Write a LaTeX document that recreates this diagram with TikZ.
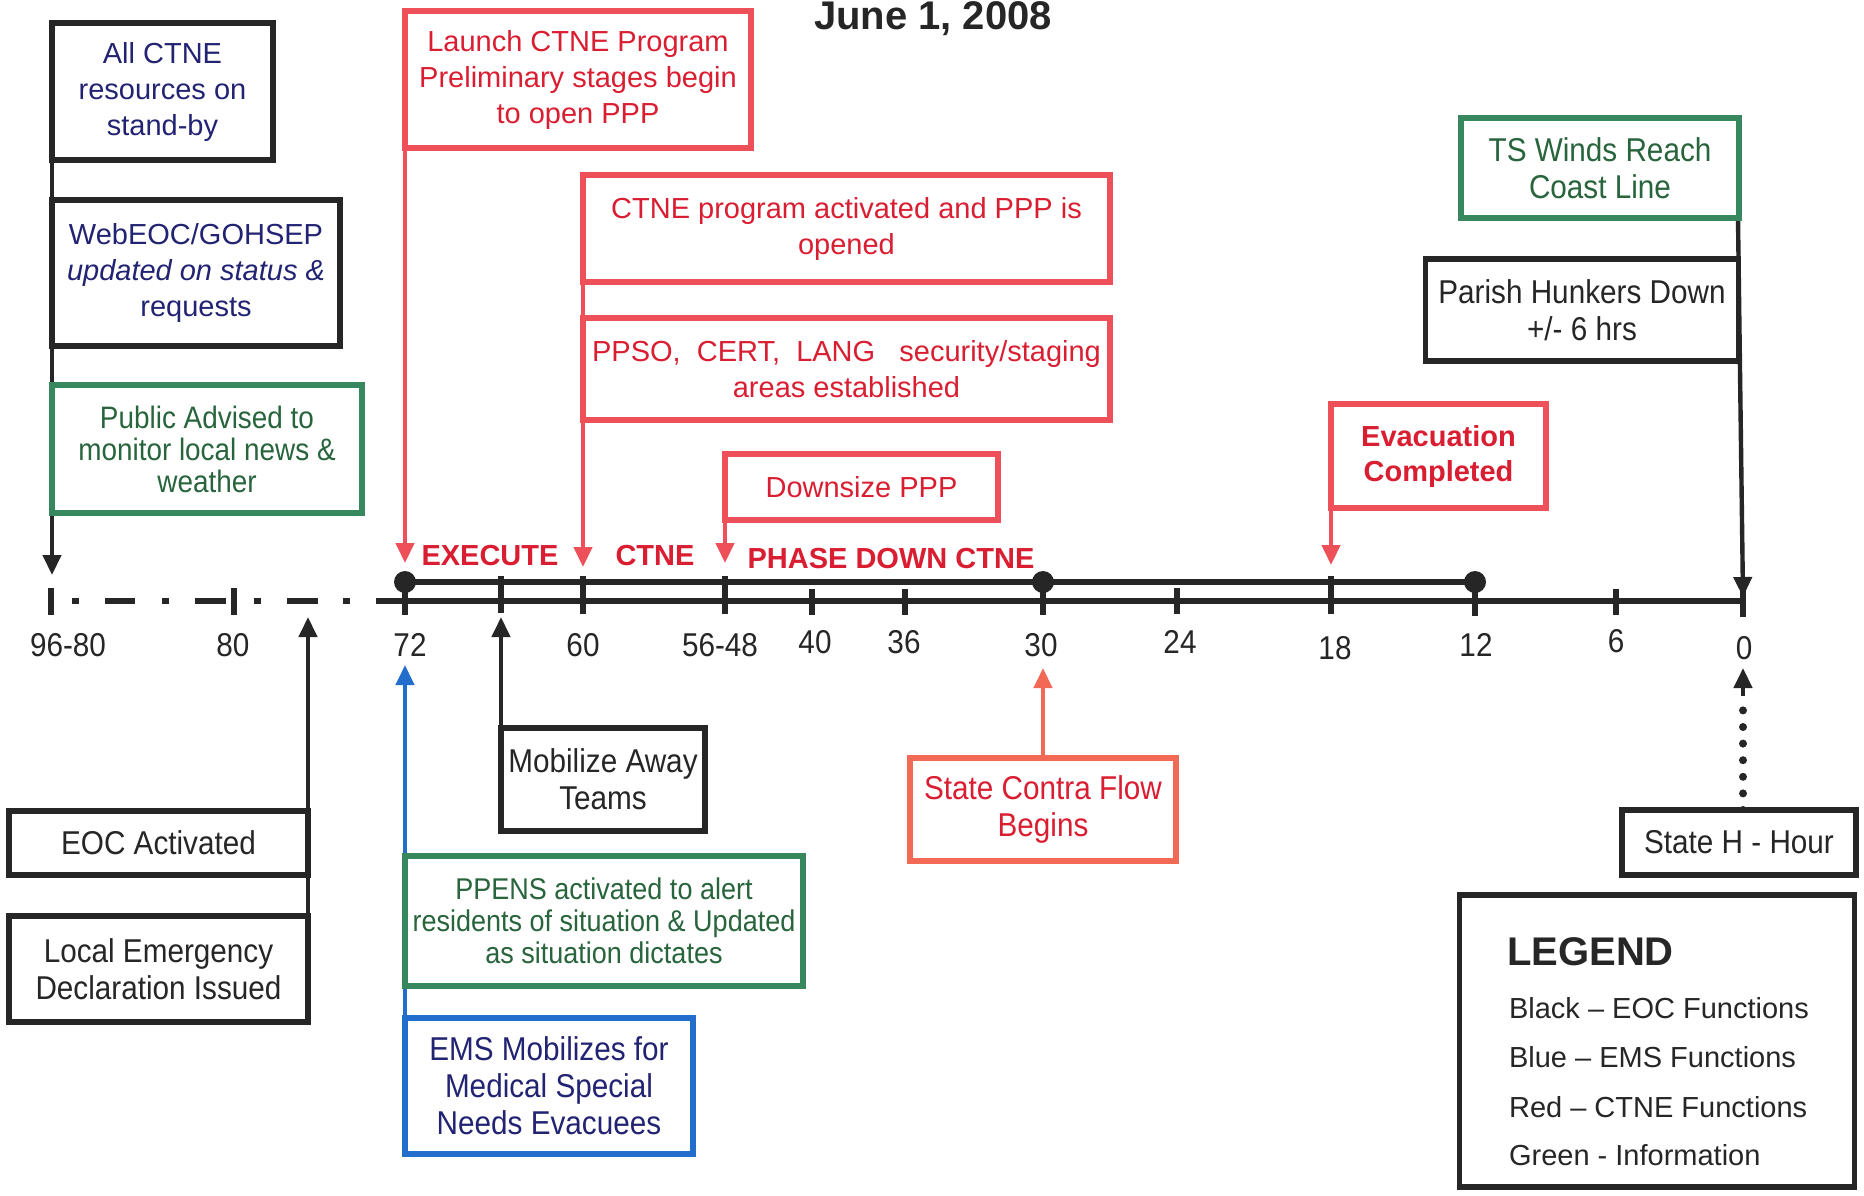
\documentclass[tikz,border=0pt]{standalone}
\usepackage{fontspec}
\setmainfont{Liberation Sans}
\newfontfamily\narrowf[FakeStretch=0.9]{Liberation Sans}
\usetikzlibrary{arrows.meta}
\definecolor{ink}{RGB}{38,38,38}
\definecolor{navy}{RGB}{35,35,115}
\definecolor{grnb}{RGB}{55,135,95}
\definecolor{grnt}{RGB}{40,100,60}
\definecolor{redb}{RGB}{238,80,90}
\definecolor{redt}{RGB}{218,30,50}
\definecolor{blub}{RGB}{35,110,205}
\definecolor{orab}{RGB}{242,105,85}
\begin{document}
\begin{tikzpicture}[x=0.5pt,y=-0.5pt,
  wtxt/.style={font=\fontsize{14.5}{18}\selectfont},
  ntxt/.style={font=\narrowf\fontsize{16.5}{18.5}\selectfont},
  box/.style={draw, line width=2.6pt, fill=white, align=center, inner sep=1pt},
  kbox/.style={box, draw=ink, text=ink},
  rbox/.style={box, draw=redb, text=redt},
  gbox/.style={box, draw=grnb, text=grnt},
  bbox/.style={box, draw=blub, text=navy},
  kcon/.style={draw=ink, line width=2.2pt, -{Triangle[length=10pt,width=9pt]}},
  rcon/.style={draw=redb, line width=2.2pt, -{Triangle[length=10pt,width=9pt]}},
  bcon/.style={draw=blub, line width=2.2pt, -{Triangle[length=10pt,width=9pt]}},
  ocon/.style={draw=orab, line width=2.2pt, -{Triangle[length=10pt,width=9pt]}},
  axis/.style={draw=ink, line width=3pt},
  tk/.style={draw=ink, line width=2.6pt},
  numlab/.style={ntxt, text=ink},
  phase/.style={font=\bfseries\fontsize{14.5}{18}\selectfont, text=redt},
  legitem/.style={wtxt, text=ink, anchor=west}
]
\useasboundingbox (0,0) rectangle (1864,1195);
\fill[white] (0,0) rectangle (1864,1195);

% title
\node[font=\bfseries\fontsize{20}{22}\selectfont, text=ink, anchor=base] (title) at (933,29) {June 1, 2008};

% arrow tip coordinates
\coordinate (tipL) at (52,575);
\coordinate (tip72) at (405,563);
\coordinate (tip60) at (583,567);
\coordinate (tip56) at (725,563);
\coordinate (tip18) at (1331,565);
\coordinate (tip0) at (1743,597);
\coordinate (tipE) at (308,617);
\coordinate (tipM) at (501,617);
\coordinate (tipB) at (405,665);
\coordinate (tipC) at (1043,668);
\coordinate (tipH) at (1743,668);
\coordinate (dotend) at (1743,696);

% ---------- timeline ----------
\draw[axis] (376,601) -- (1743,601);
\foreach \a/\b in {105/135,195/226,287/318} \draw[axis] (\a,601) -- (\b,601);
\foreach \a in {75,165,257,346} \draw[axis] (\a-3.5,601) -- (\a+3.5,601);
\draw[axis] (405,582) -- (1475,582);
\foreach \x/\a/\b in {51/588/615, 234/588/615, 405/582/615, 501/576/613, 583/576/614,
  725/576/614, 812/589/615, 905/589/615, 1043/582/615, 1177/588/614, 1331/576/614,
  1475/582/616, 1616/589/615, 1743/590/617}
  \draw[tk] (\x,\a) -- (\x,\b);
\foreach \x in {405,1043,1475} \fill[ink] (\x,582) circle (5.5pt);

\node[numlab] (n9680) at (68,645) {96-80};
\node[numlab] (n80) at (233,645) {80};
\node[numlab] (n72) at (410,645) {72};
\node[numlab] (n60) at (583,645) {60};
\node[numlab] (n5648) at (720,645) {56-48};
\node[numlab] (n40) at (815,642) {40};
\node[numlab] (n36) at (904,642) {36};
\node[numlab] (n30) at (1041,645) {30};
\node[numlab] (n24) at (1180,642) {24};
\node[numlab] (n18) at (1335,648) {18};
\node[numlab] (n12) at (1476,645) {12};
\node[numlab] (n6) at (1616,641) {6};
\node[numlab] (n0) at (1744,648) {0};

\node[phase] (pexec) at (490,556) {EXECUTE};
\node[phase] (pctne) at (655,556) {CTNE};
\node[phase] (pdown) at (891,559) {PHASE DOWN CTNE};

% ---------- connectors ----------
\coordinate (lefttop) at (52,23);
\draw[kcon] (lefttop) -- (tipL);
\coordinate (launchtop) at (405,11);
\draw[rcon] (launchtop) -- (tip72);
\coordinate (acttop) at (583,175);
\draw[rcon] (acttop) -- (tip60);
\coordinate (downtop) at (725,454);
\draw[rcon] (downtop) -- (tip56);
\coordinate (evactop) at (1331,404);
\draw[rcon] (evactop) -- (tip18);
\coordinate (tsbot) at (1738,219);
\draw[kcon] (tsbot) -- (tip0);
\coordinate (localtop) at (308,915);
\draw[kcon] (localtop) -- (tipE);
\coordinate (mobtop) at (501,728);
\draw[kcon] (mobtop) -- (tipM);
\coordinate (emsbot) at (405,1154);
\draw[bcon] (emsbot) -- (tipB);
\coordinate (contratop) at (1043,758);
\draw[ocon] (contratop) -- (tipC);
\coordinate (hourtop) at (1743,810);
\draw[draw=ink, line width=4pt, line cap=round, dash pattern=on 0pt off 8.3pt] (hourtop) -- (dotend);
\draw[kcon] (dotend) -- (tipH);

% ---------- boxes ----------
\node[kbox, wtxt, text=navy, minimum width=110.5pt, minimum height=68.5pt] (allctne) at (162.5,91.5)
  {All CTNE\\resources on\\stand-by};
\node[kbox, wtxt, text=navy, minimum width=144pt, minimum height=73pt] (webeoc) at (196,273)
  {WebEOC/GOHSEP\\\textit{updated on status \&}\\requests};
\node[gbox, ntxt, font=\narrowf\fontsize{15.5}{16}\selectfont, minimum width=155pt, minimum height=64pt] (public) at (207,449)
  {Public Advised to\\monitor local news \&\\weather};

\node[rbox, wtxt, minimum width=173pt, minimum height=68.5pt] (launch) at (578,79.5)
  {Launch CTNE Program\\Preliminary stages begin\\to open PPP};
\node[rbox, wtxt, minimum width=263.5pt, minimum height=53.5pt] (ctneact) at (846.5,228.5)
  {CTNE program activated and PPP is\\opened};
\node[rbox, wtxt, minimum width=263.5pt, minimum height=51pt] (ppso) at (846.5,369)
  {PPSO,\ \ CERT,\ \ LANG\ \ \ security/staging\\areas established};
\node[rbox, wtxt, minimum width=136.5pt, minimum height=33pt] (downsize) at (861.5,487)
  {Downsize PPP};

\node[gbox, ntxt, minimum width=139pt, minimum height=50pt] (tswinds) at (1600,168)
  {TS Winds Reach\\Coast Line};
\node[kbox, ntxt, minimum width=156.5pt, minimum height=51pt] (parish) at (1582,310)
  {Parish Hunkers Down\\+/- 6 hrs};
\node[rbox, font=\bfseries\fontsize{14.5}{17.5}\selectfont, minimum width=107.5pt, minimum height=52pt] (evac) at (1438.5,456)
  {Evacuation\\Completed};

\node[kbox, ntxt, minimum width=149.5pt, minimum height=32pt] (eoc) at (158.5,843)
  {EOC Activated};
\node[kbox, ntxt, minimum width=149.5pt, minimum height=53pt] (local) at (158.5,969)
  {Local Emergency\\Declaration Issued};
\node[kbox, ntxt, minimum width=102pt, minimum height=51.5pt] (mobilize) at (603,779.5)
  {Mobilize Away\\Teams};
\node[gbox, ntxt, font=\narrowf\fontsize{15}{16}\selectfont, minimum width=199pt, minimum height=65pt] (ppens) at (604,921)
  {PPENS activated to alert\\residents of situation \& Updated\\as situation dictates};
\node[bbox, ntxt, minimum width=144pt, minimum height=68pt] (ems) at (549,1086)
  {EMS Mobilizes for\\Medical Special\\Needs Evacuees};
\node[box, draw=orab, text=redt, ntxt, minimum width=133pt, minimum height=51.5pt] (contra) at (1043,809.5)
  {State Contra Flow\\Begins};
\node[kbox, ntxt, minimum width=117pt, minimum height=32.5pt] (statehr) at (1739,842.5)
  {State H - Hour};

% legend
\node[kbox, minimum width=197.5pt, minimum height=146pt] (legend) at (1657,1041) {};
\node[anchor=west, font=\bfseries\fontsize{20}{22}\selectfont, text=ink] (legtitle) at (1500,952) {LEGEND};
\node[legitem] (leg1) at (1502,1008) {Black -- EOC Functions};
\node[legitem] (leg2) at (1502,1057) {Blue -- EMS Functions};
\node[legitem] (leg3) at (1502,1107) {Red -- CTNE Functions};
\node[legitem] (leg4) at (1502,1155) {Green - Information};
\end{tikzpicture}
\end{document}
